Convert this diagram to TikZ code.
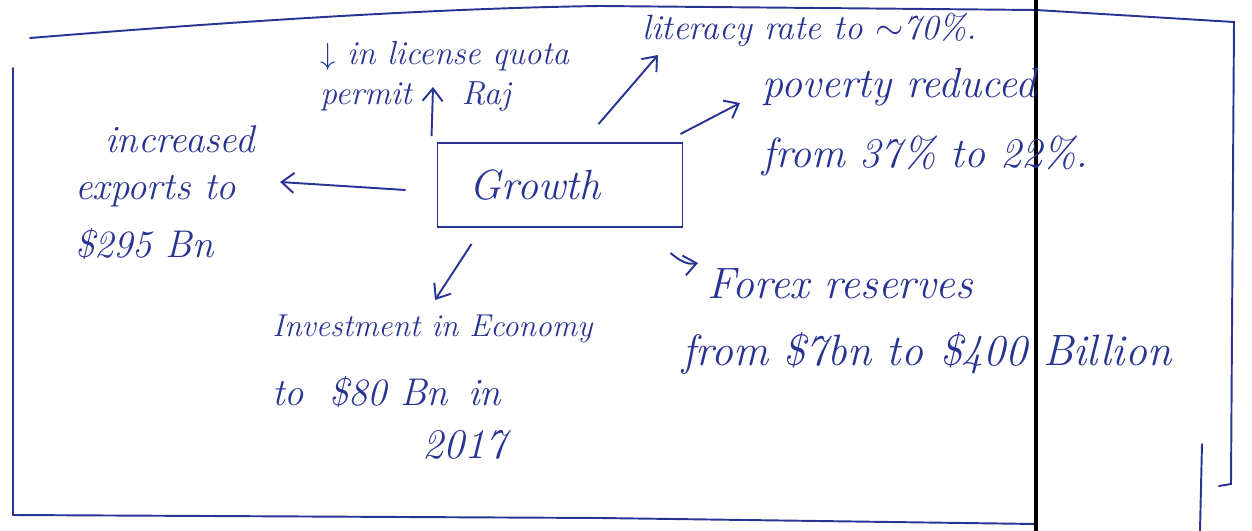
\documentclass[tikz,border=0pt]{standalone}
\usetikzlibrary{arrows.meta, positioning}
\definecolor{ink}{RGB}{40,52,148}
\tikzset{
        note/.style={text=ink, inner sep=0pt, align=left, anchor=north west},
        hub/.style={rectangle, draw=ink, line width=1.1pt, minimum width=4.9cm, minimum height=1.68cm, text=ink, font=\fontsize{24}{28}\selectfont\itshape},
        arrow/.style={-{Straight Barb[length=2.5mm,width=4mm]}, ink, line width=1.1pt},
        frame/.style={ink, line width=1.1pt, line cap=round},
    }
\begin{document}
\begin{tikzpicture}[x=0.02cm, y=-0.02cm]
        \useasboundingbox (0,0) rectangle (1252,531);
        % Page frame
        \draw[frame] (30,38) .. controls (250,20) and (450,8) .. (600,6) -- (1036,10) -- (1234,22) -- (1231,484) -- (1219,486);
        \draw[frame] (13,68) -- (13,515) -- (600,518) -- (1036,524);
        \draw[frame] (1202,444) -- (1200,531);
        \draw[black, line width=2.2pt] (1036,0) -- (1036,531);

        % Central box
        \node[hub] (growth) at (560,185) {Growth\hspace{1cm}\null};

        % Outcomes
        \node[note, font=\fontsize{19}{23}\selectfont\itshape] (licence) at (320,41) {$\downarrow$ in license quota\\permit\hspace{1.0cm}Raj};
        \node[note, font=\fontsize{20}{24}\selectfont\itshape] (literacy) at (642,13) {literacy rate to ${\sim}$70\%.};
        \node[note, font=\fontsize{24}{40}\selectfont\itshape] (poverty) at (762,68) {poverty reduced\\from 37\% to 22\%.};
        \node[note, font=\fontsize{22}{27}\selectfont\itshape] (exports) at (75,125) {\hspace{0.6cm}increased\\exports to\\[6pt]\$295 Bn};
        \node[note, font=\fontsize{18}{35}\selectfont\itshape] (invest) at (272,315) {Investment in Economy\\[4pt]{\fontsize{22}{35}\selectfont to\hspace{0.5cm}\$80 Bn\hspace{0.4cm}in}\\[-5pt]\hspace{3.0cm}{\fontsize{24}{35}\selectfont 2017}};
        \node[note, font=\fontsize{25}{38}\selectfont\itshape] (forex) at (682,268) {\hspace{0.5cm}Forex reserves\\from \$7bn to\hspace{0.35cm}\$400 Billion};

        \draw[arrow] ([shift={(-5,-6)}]growth.north west) -- ([shift={(113,46)}]licence.north west);
        \draw[arrow] ([shift={(162,-18)}]growth.north west) -- ([shift={(16,42)}]literacy.north west);
        \draw[arrow] ([shift={(-3,-8)}]growth.north east) -- ([shift={(-22,35)}]poverty.north west);
        \draw[arrow] ([shift={(-31,5)}]growth.west) -- ([shift={(205,57)}]exports.north west);
        \draw[arrow] ([shift={(35,16)}]growth.south west) -- ([shift={(163,-15)}]invest.north west);
        \draw[arrow] ([shift={(-13,25)}]growth.south east) to[out=-40, in=-170] ([shift={(16,-5)}]forex.north west);
    \end{tikzpicture}
\end{document}
